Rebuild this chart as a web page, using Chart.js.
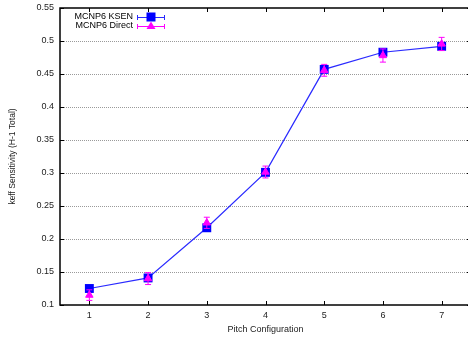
<!DOCTYPE html>
<html lang="en">
<head>
<meta charset="UTF-8">
<title>keff Sensitivity vs Pitch Configuration</title>
<script src="https://cdn.jsdelivr.net/npm/chart.js@4.4.1/dist/chart.umd.min.js"></script>
<style>
  html, body { margin: 0; padding: 0; background: #fff; overflow: hidden; }
  canvas { display: block; }
</style>
</head>
<body>
<canvas id="sens" width="472" height="341"></canvas>
<script>
// pitch configurations and H-1 total sensitivities
const pitchConfigs = [1, 2, 3, 4, 5, 6, 7];
const ksenValues   = [0.125, 0.141, 0.217, 0.301, 0.457, 0.483, 0.492];
const ksenErrors   = [0.001, 0.001, 0.001, 0.001, 0.001, 0.001, 0.001];
const directValues = [0.115, 0.140, 0.2245, 0.3015, 0.4556, 0.478, 0.4955];
const directErrors = [0.008, 0.009, 0.0085, 0.009, 0.009, 0.010, 0.010];
const yTicks = [0.1, 0.15, 0.2, 0.25, 0.3, 0.35, 0.4, 0.45, 0.5, 0.55];
const seriesNames = ['MCNP6 KSEN', 'MCNP6 Direct'];

const BLUE = '#0000ff';
const LINE_BLUE = '#2a2aff';
const MAGENTA = '#ff00ff';
const FONT = "'Liberation Sans', Arial, sans-serif";
const errorSets = [ksenErrors, directErrors];
const errorColors = [LINE_BLUE, MAGENTA];

function drawSymbol(ctx, kind, x, y) {
  ctx.beginPath();
  if (kind === 'square') {
    ctx.fillStyle = BLUE;
    ctx.fillRect(x - 4.5, y - 4.5, 9, 9);
  } else {
    ctx.fillStyle = MAGENTA;
    ctx.moveTo(x, y - 4.5);
    ctx.lineTo(x + 4.5, y + 3);
    ctx.lineTo(x - 4.5, y + 3);
    ctx.closePath();
    ctx.fill();
  }
}

// gnuplot-like frame: dotted grid, box border, inward ticks, error bars, key
const frame = {
  id: 'frame',
  beforeDatasetsDraw(chart) {
    const { ctx, chartArea: a, scales: { y } } = chart;
    ctx.save();
    ctx.strokeStyle = '#9a9a9a';
    ctx.lineWidth = 1;
    ctx.setLineDash([1, 1]);
    yTicks.slice(1, -1).forEach(v => {
      const py = Math.round(y.getPixelForValue(v)) + 0.5;
      ctx.beginPath();
      ctx.moveTo(a.left, py);
      ctx.lineTo(a.right, py);
      ctx.stroke();
    });
    ctx.restore();
  },
  beforeDatasetDraw(chart, args) {
    const { ctx, scales: { x, y } } = chart;
    const vals = chart.data.datasets[args.index].data;
    const errs = errorSets[args.index];
    ctx.save();
    ctx.strokeStyle = errorColors[args.index];
    ctx.lineWidth = 1;
    vals.forEach((v, i) => {
      const px = x.getPixelForValue(pitchConfigs[i]);
      const top = y.getPixelForValue(v + errs[i]);
      const bot = y.getPixelForValue(v - errs[i]);
      ctx.beginPath();
      ctx.moveTo(px, top); ctx.lineTo(px, bot);
      ctx.moveTo(px - 3, top); ctx.lineTo(px + 3, top);
      ctx.moveTo(px - 3, bot); ctx.lineTo(px + 3, bot);
      ctx.stroke();
    });
    ctx.restore();
  },
  afterDatasetsDraw(chart) {
    const { ctx, chartArea: a, scales: { x, y } } = chart;
    ctx.save();
    ctx.strokeStyle = '#000';
    ctx.lineWidth = 1.5;
    ctx.strokeRect(a.left, a.top, a.right - a.left, a.bottom - a.top);
    ctx.lineWidth = 1;
    ctx.beginPath();
    pitchConfigs.forEach(v => {
      const px = Math.round(x.getPixelForValue(v)) + 0.5;
      ctx.moveTo(px, a.bottom); ctx.lineTo(px, a.bottom - 4);
      ctx.moveTo(px, a.top); ctx.lineTo(px, a.top + 4);
    });
    yTicks.forEach(v => {
      const py = Math.round(y.getPixelForValue(v)) + 0.5;
      ctx.moveTo(a.left, py); ctx.lineTo(a.left + 4, py);
      ctx.moveTo(a.right, py); ctx.lineTo(a.right - 4, py);
    });
    ctx.stroke();
    ctx.restore();
  },
  afterDraw(chart) {
    const { ctx } = chart;
    const rows = [
      { name: seriesNames[0], y: 17, color: LINE_BLUE, kind: 'square' },
      { name: seriesNames[1], y: 26, color: MAGENTA, kind: 'triangle' }
    ];
    ctx.save();
    ctx.font = '9px ' + FONT;
    ctx.textAlign = 'right';
    ctx.textBaseline = 'middle';
    rows.forEach(r => {
      ctx.fillStyle = '#000';
      ctx.fillText(r.name, 133, r.y);
      ctx.strokeStyle = r.color;
      ctx.lineWidth = 1;
      ctx.beginPath();
      ctx.moveTo(137, r.y + 0.5); ctx.lineTo(165, r.y + 0.5);
      ctx.moveTo(137.5, r.y - 2); ctx.lineTo(137.5, r.y + 3);
      ctx.moveTo(164.5, r.y - 2); ctx.lineTo(164.5, r.y + 3);
      ctx.stroke();
      drawSymbol(ctx, r.kind, 151, r.y);
    });
    ctx.restore();
  }
};

new Chart(document.getElementById('sens'), {
  type: 'line',
  data: {
    labels: pitchConfigs,
    datasets: [{
      label: seriesNames[0],
      data: ksenValues,
      order: 2,
      borderColor: LINE_BLUE,
      borderWidth: 1.2,
      pointStyle: 'rect',
      pointRadius: 6.3,
      pointBorderWidth: 0,
      pointBackgroundColor: BLUE,
      tension: 0
    }, {
      label: seriesNames[1],
      data: directValues,
      order: 1,
      showLine: false,
      pointStyle: 'triangle',
      pointRadius: 4.3,
      pointBorderWidth: 1,
      pointBorderColor: MAGENTA,
      pointBackgroundColor: MAGENTA
    }]
  },
  options: {
    responsive: false,
    animation: false,
    devicePixelRatio: 1,
    // canvas is a few px wider than the window, so the right frame edge sits just off-screen
    layout: { autoPadding: false, padding: { top: 8, right: 1, bottom: 0, left: 0 } },
    plugins: { legend: { display: false }, tooltip: { enabled: false } },
    scales: {
      x: {
        type: 'linear',
        min: 0.5,
        max: 7.5,
        afterBuildTicks: axis => { axis.ticks = pitchConfigs.map(v => ({ value: v })); },
        afterFit: axis => {
          axis.height = 36;
          axis.paddingLeft = 0;
          axis.paddingRight = 0;
        },
        grid: { display: false, drawTicks: false },
        border: { display: false },
        ticks: { padding: 5, color: '#222', font: { family: FONT, size: 9 } },
        title: {
          display: true,
          text: 'Pitch Configuration',
          color: '#222',
          font: { family: FONT, size: 9 },
          padding: { top: 0, bottom: 6.5 }
        }
      },
      y: {
        min: 0.1,
        max: 0.55,
        afterBuildTicks: axis => { axis.ticks = yTicks.map(v => ({ value: v })); },
        afterFit: axis => {
          axis.width = 60;
          axis.paddingTop = 0;
          axis.paddingBottom = 0;
        },
        grid: { display: false, drawTicks: false },
        border: { display: false },
        ticks: {
          padding: 6,
          color: '#222',
          font: { family: FONT, size: 9 },
          callback: v => String(+v.toFixed(2))
        },
        title: {
          display: true,
          text: 'keff Sensitivity (H-1 Total)',
          color: '#222',
          font: { family: FONT, size: 8.5 },
          padding: { top: 7.5, bottom: 0 }
        }
      }
    }
  },
  plugins: [frame]
});
</script>
</body>
</html>
